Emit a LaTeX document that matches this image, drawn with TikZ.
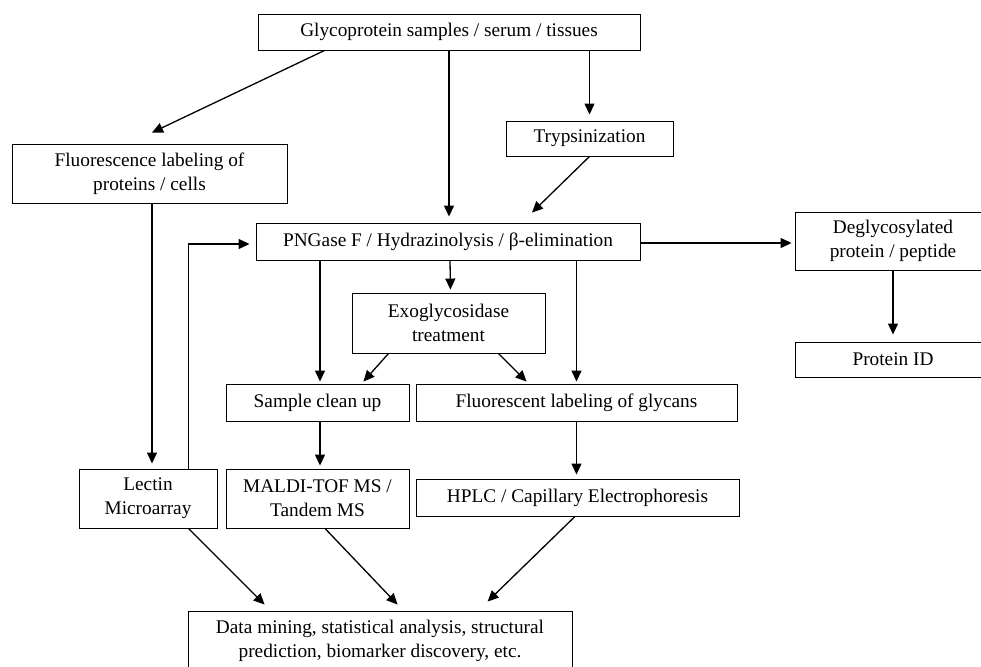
\documentclass[tikz,border=0pt]{standalone}
\usepackage{fontspec}
\setmainfont{Liberation Serif}
\usetikzlibrary{arrows.meta}

\begin{document}
\begin{tikzpicture}[x=1pt, y=-1pt,
  every node/.style={font=\fontsize{19.3}{24}\selectfont},
  box/.style={draw, line width=0.9pt, inner sep=0pt, align=center},
  arr/.style={-{Triangle[length=11pt,width=10pt]}, line width=1.3pt}]
\useasboundingbox (0,0) rectangle (981,666);

% boxes, placed at their centres
\node[box, minimum width=382, minimum height=36] (samples) at (449,32) {Glycoprotein samples / serum / tissues};
\node[box, minimum width=275, minimum height=59] (fluorlab) at (149.5,173.5) {Fluorescence labeling of\\proteins / cells};
\node[box, minimum width=167, minimum height=35] (tryp) at (589.5,138.5) {Trypsinization};
\node[box, minimum width=384, minimum height=37] (pngase) at (448,241.5) {PNGase F / Hydrazinolysis / β-elimination};
\node[box, minimum width=196, minimum height=58] (deglyco) at (893,241) {Deglycosylated\\protein / peptide};
\node[box, minimum width=193, minimum height=60] (exoglyc) at (448.5,323) {Exoglycosidase\\treatment};
\node[box, minimum width=196, minimum height=35] (protid) at (893,359.5) {Protein ID};
\node[box, minimum width=183, minimum height=37] (cleanup) at (317.5,402.5) {Sample clean up};
\node[box, minimum width=321, minimum height=37] (glycanlab) at (576.5,402.5) {Fluorescent labeling of glycans};
\node[box, minimum width=138, minimum height=59] (lectin) at (148,498.5) {Lectin\\Microarray};
\node[box, minimum width=183, minimum height=59] (maldi) at (317.5,498.5) {MALDI-TOF MS /\\Tandem MS};
\node[box, minimum width=323, minimum height=37] (hplc) at (577.5,497.5) {HPLC / Capillary Electrophoresis};
\node[box, minimum width=384, minimum height=59] (mining) at (380,640.5) {Data mining, statistical analysis, structural\\prediction, biomarker discovery, etc.};

% top part
\draw[arr] ([xshift=67pt]samples.south west) -- ([xshift=2.5pt,yshift=11pt]fluorlab.north);
\draw[arr, shorten >=6pt] (samples.south) -- (samples.south |- pngase.north);
\draw[arr, shorten >=6pt] (tryp.north |- samples.south) -- (tryp.north);
\draw[arr] (tryp.south) -- ([xshift=84pt,yshift=10pt]pngase.north);
\draw[arr, shorten >=5pt] ([xshift=2.5pt]fluorlab.south) -- ([xshift=2.5pt]fluorlab.south |- lectin.north);
\draw[arr, shorten >=6pt] ([xshift=-29pt]lectin.north east) |- ([yshift=-2.5pt]pngase.west); % lectin back up to pngase
\draw[arr, shorten >=3pt] ([yshift=-1.5pt]pngase.east) -- ([yshift=-1.5pt]pngase.east -| deglyco.west);
\draw[arr, shorten >=7pt] (deglyco.south) -- (protid.north);

% middle part
\draw[arr, shorten >=3pt] ([xshift=2pt]pngase.south) -- ([xshift=2pt]exoglyc.north);
\draw[arr, shorten >=2pt] ([xshift=2.5pt]cleanup.north |- pngase.south) -- ([xshift=2.5pt]cleanup.north);
\draw[arr, shorten >=2pt] (glycanlab.north |- pngase.south) -- (glycanlab.north);
\draw[arr] ([xshift=37pt]exoglyc.south west) -- ([xshift=-46pt,yshift=2pt]cleanup.north east);
\draw[arr] ([xshift=-47pt]exoglyc.south east) -- ([xshift=111pt,yshift=2pt]glycanlab.north west);
\draw[arr, shorten >=3pt] ([xshift=2.5pt]cleanup.south) -- ([xshift=2.5pt]maldi.north);
\draw[arr, shorten >=4pt] (glycanlab.south) -- (glycanlab.south |- hplc.north);

% bottom part
\draw[arr] ([xshift=-29pt]lectin.south east) -- ([xshift=77pt,yshift=6pt]mining.north west);
\draw[arr] ([xshift=7.5pt]maldi.south) -- ([xshift=210pt,yshift=6pt]mining.north west);
\draw[arr] ([xshift=-2.5pt]hplc.south) -- ([xshift=300pt,yshift=9pt]mining.north west);
\end{tikzpicture}
\end{document}
